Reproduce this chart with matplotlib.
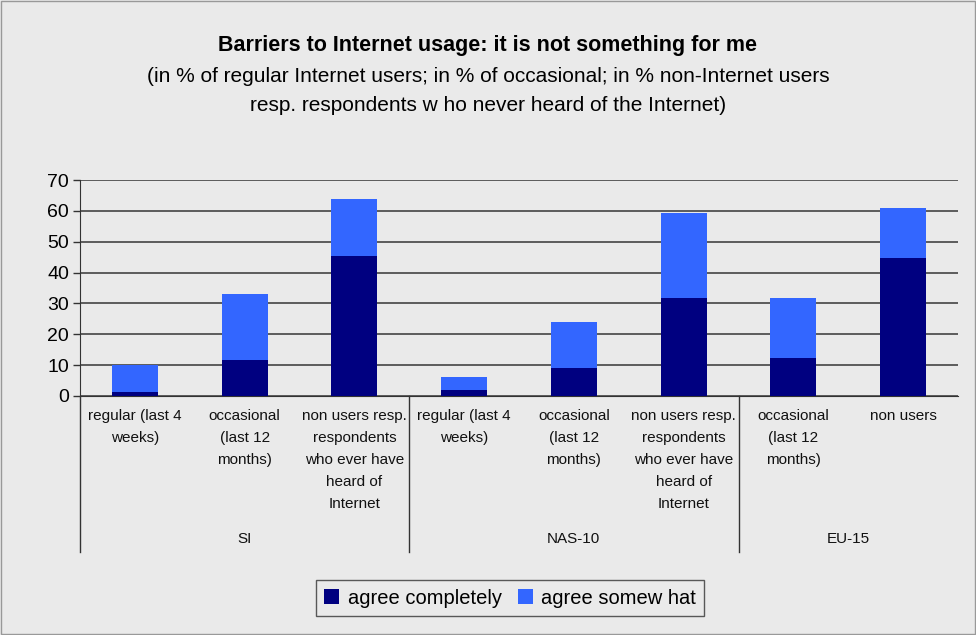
import matplotlib
matplotlib.use("Agg")
from matplotlib import pyplot as plt
from matplotlib.patches import Rectangle, Patch
import numpy as np

plt.rcParams['font.family'] = ['Liberation Sans', 'DejaVu Sans']

groups = ['SI', 'NAS-10', 'EU-15']
group_sizes = [3, 3, 2]
categories = ['regular (last 4\nweeks)', 'occasional\n(last 12\nmonths)',
              'non users resp.\nrespondents\nwho ever have\nheard of\nInternet',
              'regular (last 4\nweeks)', 'occasional\n(last 12\nmonths)',
              'non users resp.\nrespondents\nwho ever have\nheard of\nInternet',
              'occasional\n(last 12\nmonths)', 'non users']
agree_completely = [1.3, 11.6, 45.3, 1.8, 9.0, 31.7, 12.3, 44.7]
agree_total = [10.0, 33.0, 63.8, 6.1, 23.9, 59.3, 31.7, 60.9]
agree_somewhat = [t - c for t, c in zip(agree_total, agree_completely)]

bg = '#eaeaea'
dark = '#000080'
light = '#3366ff'

W, H = 976, 635
fig = plt.figure(figsize=(W / 100, H / 100), dpi=100, facecolor=bg)
fig.patches.append(Rectangle((0.001, 0.001), 0.998, 0.997, transform=fig.transFigure,
                             fill=False, edgecolor='#999999', lw=1))

x0, x1, ytop, ybot = 80, 958, 180, 396
ax = fig.add_axes([x0 / W, 1 - ybot / H, (x1 - x0) / W, (ybot - ytop) / H])
ax.set_facecolor(bg)

x = np.arange(len(categories))
ax.bar(x, agree_completely, width=0.42, color=dark, zorder=3)
ax.bar(x, agree_somewhat, width=0.42, bottom=agree_completely, color=light, zorder=3)

ax.set_xlim(-0.5, len(categories) - 0.5)
ax.set_ylim(0, 70)
ax.set_yticks(range(0, 71, 10))
ax.tick_params(axis='y', labelsize=14, length=5, width=1, color='#333333', pad=3)
ax.set_xticks([])
ax.yaxis.grid(True, color='#444444', lw=1.2, zorder=0)
for s in ['top', 'right']:
    ax.spines[s].set_visible(False)
ax.spines['left'].set_color('#333333')
ax.spines['bottom'].set_color('#333333')

# category labels
tr = ax.get_xaxis_transform()
for xi, lab in zip(x, categories):
    ax.text(xi, (ybot - 409) / (ybot - ytop), lab, transform=tr, ha='center', va='top',
            fontsize=11, linespacing=1.72, color='#111111')

# group separators and labels
bounds = np.concatenate([[0], np.cumsum(group_sizes)]) - 0.5
ylow = (ybot - 552) / (ybot - ytop)
for b in bounds[:-1]:
    ax.plot([b, b], [0, ylow], transform=tr, color='#333333', lw=1, clip_on=False)
for g, a, b in zip(groups, bounds[:-1], bounds[1:]):
    ax.text((a + b) / 2, (ybot - 539) / (ybot - ytop), g, transform=tr, ha='center',
            va='center', fontsize=11, color='#111111')

fig.text(0.5, 1 - 46 / H, 'Barriers to Internet usage: it is not something for me',
         ha='center', va='center', fontsize=15.5, fontweight='bold')
fig.text(0.5, 1 - 91 / H,
         '(in % of regular Internet users; in % of occasional; in % non-Internet users\n'
         'resp. respondents w ho never heard of the Internet)',
         ha='center', va='center', fontsize=15, linespacing=1.7)

handles = [Patch(facecolor=dark), Patch(facecolor=light)]
leg = fig.legend(handles, ['agree completely', 'agree somew hat'], loc='center',
                 bbox_to_anchor=(510 / W, 1 - 598 / H), ncol=2, fontsize=14.5,
                 frameon=True, fancybox=False, edgecolor='#333333', facecolor=bg,
                 handlelength=0.75, handleheight=0.75, handletextpad=0.4,
                 columnspacing=0.8, borderpad=0.4)
leg.get_frame().set_linewidth(1)

fig.savefig('out.png', dpi=100, facecolor=bg)
